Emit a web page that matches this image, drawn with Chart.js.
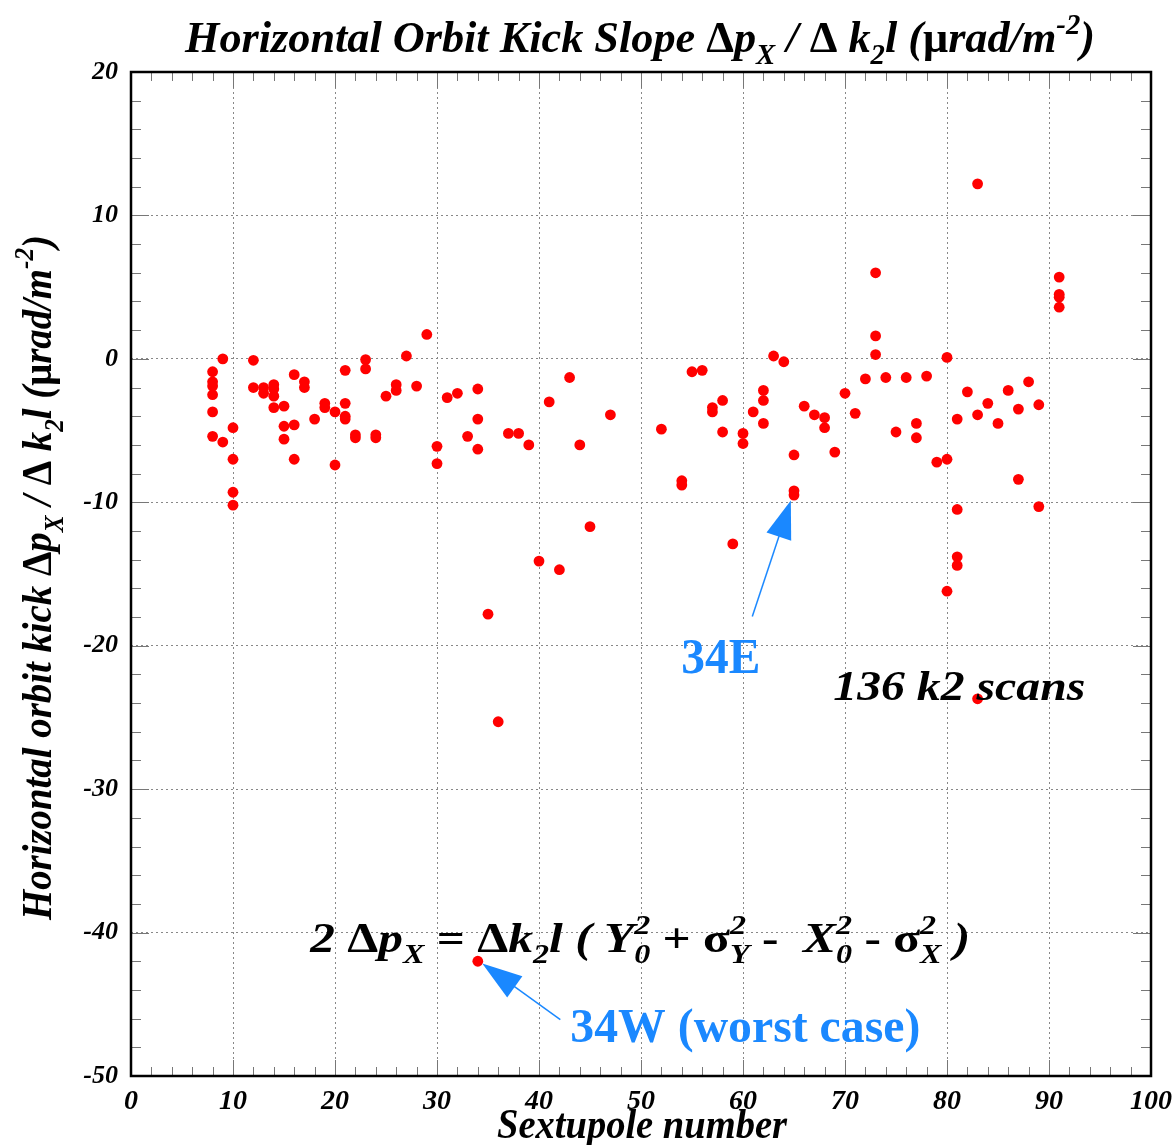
<!DOCTYPE html>
<html>
<head>
<meta charset="utf-8">
<script src="https://cdn.jsdelivr.net/npm/chart.js@4.4.1/dist/chart.umd.min.js"></script>
<style>
  body { margin: 0; background: #fff; }
  #wrap { width: 1174px; height: 1145px; }
</style>
</head>
<body>
<div id="wrap"><canvas id="myChart"></canvas></div>
<script>
// Data
const sextupole = [
  8, 8, 8, 8, 8, 8, 9, 9, 10, 10, 10, 10,
  12, 12, 13, 13, 14, 14, 14, 14, 15, 15, 15, 16, 16, 16, 17, 17, 18, 19, 19,
  20, 20, 21, 21, 21, 21, 22, 22, 23, 23, 24, 24, 25, 26, 26, 27, 28, 29,
  30, 30, 31, 32, 33, 34, 34, 34, 34, 35, 36, 37, 38, 39,
  40, 41, 42, 43, 44, 45, 47, 52, 54, 54, 55, 56, 57, 57, 58, 58, 59,
  60, 60, 61, 62, 62, 62, 63, 64, 65, 65, 65, 66, 67, 68, 68, 69,
  70, 71, 72, 73, 73, 73, 74, 75, 76, 77, 77, 78, 79,
  80, 80, 80, 81, 81, 81, 81, 82, 83, 83, 83, 84, 85, 86, 87, 87, 88, 89, 89,
  91, 91, 91, 91
];
const kickSlope = [
  -0.9, -1.6, -1.9, -2.5, -3.7, -5.4, 0.0, -5.8, -4.8, -7.0, -9.3, -10.2,
  -0.1, -2.0, -2.0, -2.4, -1.8, -2.1, -2.6, -3.4, -3.3, -4.7, -5.6, -1.1, -4.6, -7.0, -1.6, -2.0, -4.2, -3.1, -3.4,
  -3.7, -7.4, -0.8, -3.1, -4.0, -4.2, -5.3, -5.5, -0.05, -0.7, -5.3, -5.5, -2.6, -1.8, -2.2, 0.2, -1.9, 1.7,
  -6.1, -7.3, -2.7, -2.4, -5.4, -2.1, -4.2, -6.3, -42.0, -17.8, -25.3, -5.2, -5.2, -6.0,
  -14.1, -3.0, -14.7, -1.3, -6.0, -11.7, -3.9, -4.9, -8.5, -8.8, -0.9, -0.8, -3.4, -3.7, -2.9, -5.1, -12.9,
  -5.2, -5.9, -3.7, -2.2, -2.9, -4.5, 0.2, -0.2, -6.7, -9.2, -9.5, -3.3, -3.9, -4.1, -4.8, -6.5,
  -2.4, -3.8, -1.4, 6.0, 1.6, 0.3, -1.3, -5.1, -1.3, -4.5, -5.5, -1.2, -7.2,
  0.1, -7.0, -16.2, -4.2, -10.5, -13.8, -14.4, -2.3, 12.2, -3.9, -23.7, -3.1, -4.5, -2.2, -3.5, -8.4, -1.6, -3.2, -10.3,
  5.7, 4.5, 4.3, 3.6
];
const xTickLabels = [0, 10, 20, 30, 40, 50, 60, 70, 80, 90, 100];
const yTickLabels = [-50, -40, -30, -20, -10, 0, 10, 20];

const FAMILY = '"Liberation Serif", "Times New Roman", serif';
const BLUE = '#1a88ff';

// text with sub/superscripts: segments drawn one after another
function fontFor(f, size) {
  return (f === 'b' ? 'bold ' : 'italic bold ') + size + 'px ' + FAMILY;
}
function richText(ctx, segs, x, y, size, targetW, color, rotate) {
  const small = size * 0.65;
  let total = 0;
  const widths = segs.map((s) => {
    ctx.font = fontFor(s.f, size);
    let w = ctx.measureText(s.t).width;
    ctx.font = fontFor('bi', small);
    const ws = Math.max(s.sub ? ctx.measureText(s.sub).width : 0, s.sup ? ctx.measureText(s.sup).width : 0);
    w += ws;
    total += w;
    return w;
  });
  const sx = targetW ? targetW / total : 1;
  ctx.save();
  ctx.translate(x, y);
  if (rotate) ctx.rotate(-Math.PI / 2);
  ctx.scale(sx, 1);
  ctx.fillStyle = color;
  ctx.textAlign = 'left';
  ctx.textBaseline = 'alphabetic';
  let cx = 0;
  segs.forEach((s, i) => {
    ctx.font = fontFor(s.f, size);
    ctx.fillText(s.t, cx, 0);
    const wt = ctx.measureText(s.t).width;
    ctx.font = fontFor('bi', small);
    if (s.sub) ctx.fillText(s.sub, cx + wt, size * 0.28);
    if (s.sup) ctx.fillText(s.sup, cx + wt, -size * 0.42);
    cx += widths[i];
  });
  ctx.restore();
}

function drawArrow(ctx, x0, y0, x1, y1, len, half, color) {
  const a = Math.atan2(y1 - y0, x1 - x0);
  ctx.save();
  ctx.strokeStyle = color;
  ctx.fillStyle = color;
  ctx.lineWidth = 1.5;
  ctx.beginPath();
  ctx.moveTo(x0, y0);
  ctx.lineTo(x1 - Math.cos(a) * len * 0.8, y1 - Math.sin(a) * len * 0.8);
  ctx.stroke();
  const bx = x1 - Math.cos(a) * len;
  const by = y1 - Math.sin(a) * len;
  ctx.beginPath();
  ctx.moveTo(x1, y1);
  ctx.lineTo(bx + Math.sin(a) * half, by - Math.cos(a) * half);
  ctx.lineTo(bx - Math.sin(a) * half, by + Math.cos(a) * half);
  ctx.closePath();
  ctx.fill();
  ctx.restore();
}

const unitSegs = [
  { t: 'Δ', f: 'b' }, { t: 'p', f: 'bi', sub: 'X' }, { t: ' / ', f: 'bi' },
  { t: 'Δ ', f: 'b' }, { t: 'k', f: 'bi', sub: '2' }, { t: 'l (', f: 'bi' },
  { t: 'μ', f: 'b' }, { t: 'rad/m', f: 'bi', sup: '-2' }, { t: ')', f: 'bi' },
];
const titleSegs = [{ t: 'Horizontal Orbit Kick Slope ', f: 'bi' }].concat(unitSegs);
const yTitleSegs = [{ t: 'Horizontal orbit kick ', f: 'bi' }].concat(unitSegs);
const eqSegs = [
  { t: '2 ', f: 'bi' }, { t: 'Δ', f: 'b' }, { t: 'p', f: 'bi', sub: 'X' }, { t: ' = ', f: 'b' },
  { t: 'Δ', f: 'b' }, { t: 'k', f: 'bi', sub: '2' }, { t: 'l ( ', f: 'bi' },
  { t: 'Y', f: 'bi', sub: '0', sup: '2' }, { t: ' + ', f: 'b' },
  { t: 'σ', f: 'b', sub: 'Y', sup: '2' }, { t: ' -  ', f: 'b' },
  { t: 'X', f: 'bi', sub: '0', sup: '2' }, { t: ' - ', f: 'b' },
  { t: 'σ', f: 'b', sub: 'X', sup: '2' }, { t: ' )', f: 'bi' },
];

// frame, inside ticks and all the annotations
const decorations = {
  id: 'decorations',
  afterDraw(chart) {
    const { ctx, chartArea: a, scales: { x, y } } = chart;
    ctx.save();
    ctx.strokeStyle = '#777';
    ctx.lineWidth = 1;
    ctx.beginPath();
    for (let v = 0; v <= 100; v += 2) {
      const px = Math.round(x.getPixelForValue(v)) + 0.5;
      const l = v % 10 === 0 ? 16 : 9;
      ctx.moveTo(px, a.bottom); ctx.lineTo(px, a.bottom - l);
      ctx.moveTo(px, a.top); ctx.lineTo(px, a.top + l);
    }
    for (let v = -50; v <= 20; v += 2) {
      const py = Math.round(y.getPixelForValue(v)) + 0.5;
      const l = v % 10 === 0 ? 18 : 10;
      ctx.moveTo(a.left, py); ctx.lineTo(a.left + l, py);
      ctx.moveTo(a.right, py); ctx.lineTo(a.right - l, py);
    }
    ctx.stroke();
    ctx.strokeStyle = '#000';
    ctx.lineWidth = 2.5;
    ctx.strokeRect(a.left, a.top, a.right - a.left, a.bottom - a.top);
    ctx.restore();

    const P = (vx, vy) => [x.getPixelForValue(vx), y.getPixelForValue(vy)];

    richText(ctx, titleSegs, 185, 52, 44, 910, '#000', false);
    richText(ctx, yTitleSegs, 51, 920, 42, 685, '#000', true);
    richText(ctx, [{ t: 'Sextupole number', f: 'bi' }], 497, 1138, 42, 290, '#000', false);

    let p = P(53.95, -21.88);
    richText(ctx, [{ t: '34E', f: 'b' }], p[0], p[1], 50, 79, BLUE, false);
    p = P(68.85, -23.76);
    richText(ctx, [{ t: '136 k2 scans', f: 'bi' }], p[0], p[1], 42, 252, '#000', false);
    p = P(17.58, -41.33);
    richText(ctx, eqSegs, p[0], p[1], 42, 660, '#000', false);
    p = P(43.07, -47.61);
    richText(ctx, [{ t: '34W (worst case)', f: 'b' }], p[0], p[1], 48, 350, BLUE, false);

    const t1 = P(60.91, -17.97), h1 = P(64.69, -9.88);
    drawArrow(ctx, t1[0], t1[1], h1[0], h1[1], 38, 13, BLUE);
    const t2 = P(42.09, -46.07), h2 = P(34.44, -42.16);
    drawArrow(ctx, t2[0], t2[1], h2[0], h2[1], 40, 13, BLUE);
  },
};

const points = sextupole.map((s, i) => ({ x: s, y: kickSlope[i] }));

const tickFont = (size) => ({ family: FAMILY, size, style: 'italic', weight: 'bold' });

const config = {
  type: 'scatter',
  data: {
    datasets: [{
      data: points,
      backgroundColor: '#ff0000',
      borderColor: '#ff0000',
      pointRadius: 5.4,
      pointBorderWidth: 0,
    }],
  },
  options: {
    responsive: true,
    maintainAspectRatio: false,
    animation: false,
    layout: { padding: { top: 72, right: 23, left: 0, bottom: 0 } },
    plugins: { legend: { display: false }, tooltip: { enabled: false } },
    scales: {
      x: {
        type: 'linear',
        min: 0,
        max: 100,
        afterFit: (scale) => {
          scale.height = 69;
          scale.paddingLeft = 0;
          scale.paddingRight = 0;
        },
        ticks: {
          stepSize: 2,
          autoSkip: false,
          maxRotation: 0,
          padding: 9,
          color: '#000',
          font: tickFont(28),
          callback: (v) => (xTickLabels.includes(v) ? String(v) : ''),
        },
        grid: {
          drawTicks: false,
          color: (c) => (c.tick && c.tick.value % 10 === 0 ? '#888' : 'rgba(0,0,0,0)'),
          lineWidth: 1,
        },
        border: { display: false, dash: [2, 3] },
      },
      y: {
        type: 'linear',
        min: -50,
        max: 20,
        afterFit: (scale) => { scale.width = 131; },
        ticks: {
          stepSize: 2,
          autoSkip: false,
          padding: 13,
          color: '#000',
          font: tickFont(26),
          callback: (v) => (yTickLabels.includes(v) ? String(v) : ''),
        },
        grid: {
          drawTicks: false,
          color: (c) => (c.tick && c.tick.value % 10 === 0 ? '#888' : 'rgba(0,0,0,0)'),
          lineWidth: 1,
        },
        border: { display: false, dash: [2, 3] },
      },
    },
  },
  plugins: [decorations],
};

const myChart = new Chart(document.getElementById('myChart'), config);
</script>
</body>
</html>
